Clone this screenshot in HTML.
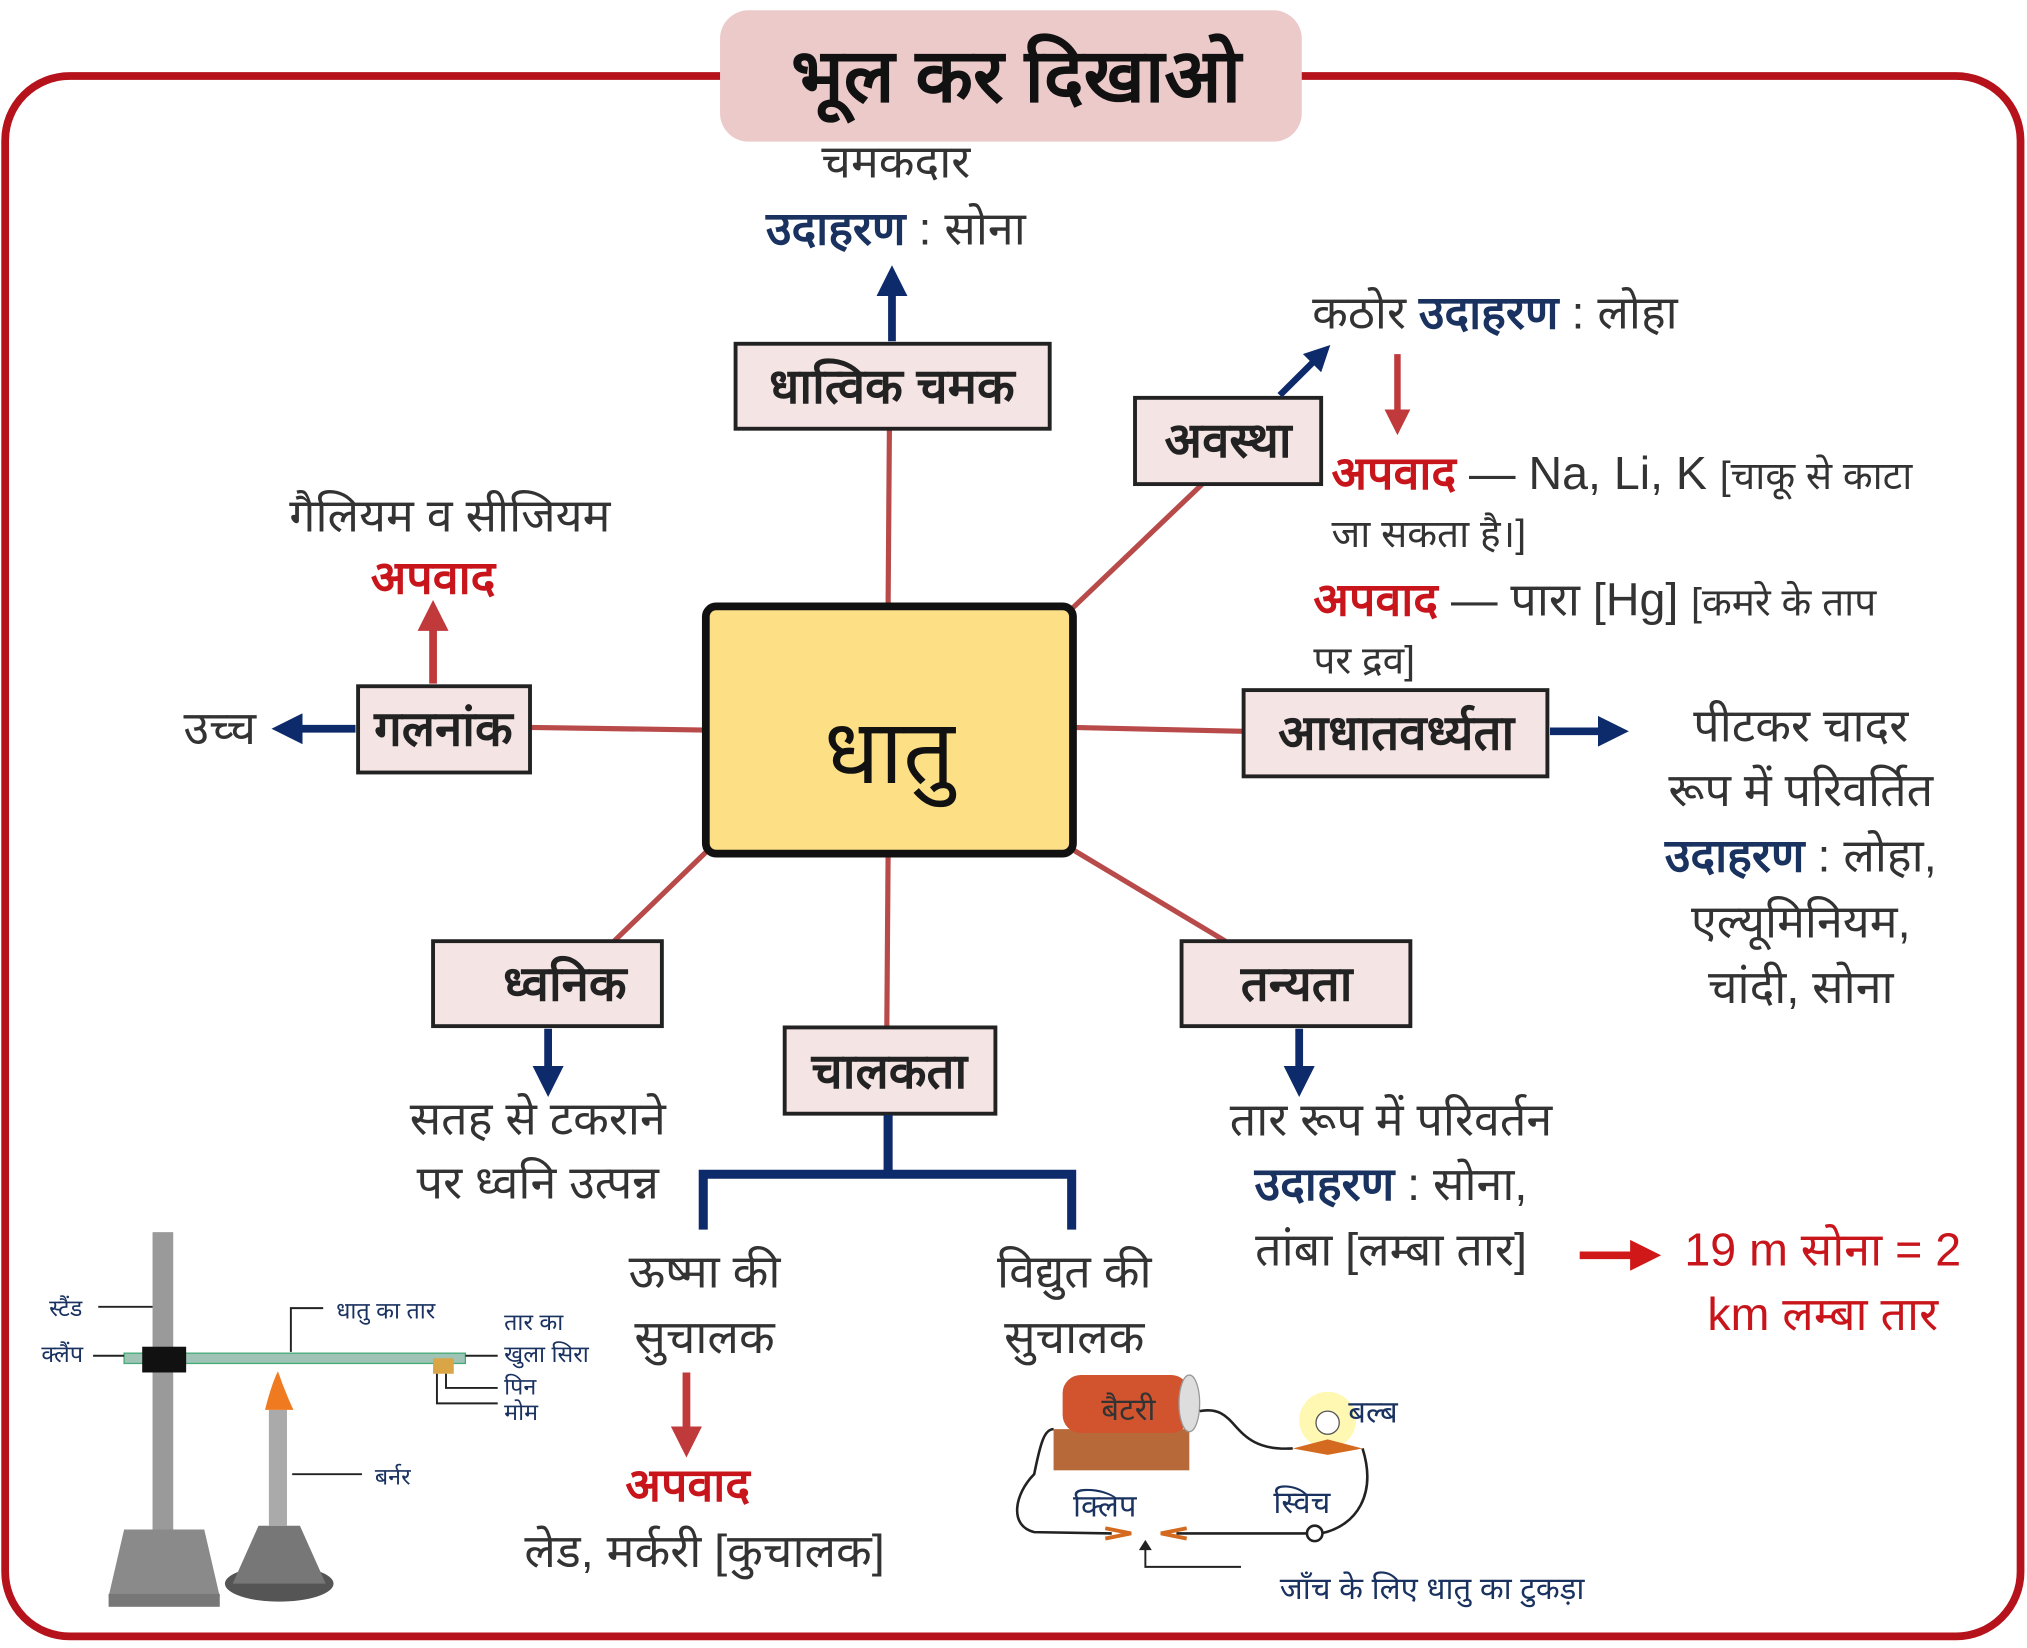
<!DOCTYPE html>
<html><head><meta charset="utf-8">
<style>
html,body{margin:0;padding:0;background:#fff;}
svg{display:block;}
text{font-family:"Liberation Sans","DejaVu Sans","Noto Sans CJK SC",sans-serif;}
</style></head>
<body>
<svg width="2027" height="1648" viewBox="0 0 1568 1280" preserveAspectRatio="none" xmlns="http://www.w3.org/2000/svg">
<defs>
<marker id="ab" markerWidth="4" markerHeight="4" refX="2" refY="2" orient="auto" markerUnits="strokeWidth"><path d="M0,0 L4,2 L0,4 z" fill="#0d2a6b"/></marker>
<marker id="ar" markerWidth="4" markerHeight="4" refX="2" refY="2" orient="auto" markerUnits="strokeWidth"><path d="M0,0 L4,2 L0,4 z" fill="#c0393b"/></marker>
<marker id="arr" markerWidth="4" markerHeight="4" refX="2" refY="2" orient="auto" markerUnits="strokeWidth"><path d="M0,0 L4,2 L0,4 z" fill="#d01818"/></marker>
</defs>
<rect x="4" y="59" width="1559" height="1212" rx="50" fill="none" stroke="#b5121b" stroke-width="6"/>
<rect x="557" y="8" width="450" height="102" rx="22" fill="#eccaca"/>
<text x="786" y="79" font-size="58" font-weight="bold" text-anchor="middle" fill="#111">भूल कर दिखाओ</text>

<g stroke="#b84a4a" stroke-width="4">
<line x1="687" y1="470" x2="688" y2="333"/>
<line x1="830" y1="472" x2="930" y2="376"/>
<line x1="545" y1="567" x2="410" y2="565"/>
<line x1="830" y1="565" x2="962" y2="568"/>
<line x1="548" y1="660" x2="475" y2="731"/>
<line x1="830" y1="660" x2="948" y2="731"/>
<line x1="687" y1="663" x2="686" y2="798"/>
</g>

<rect x="546" y="471" width="284" height="192" rx="8" fill="#fddf86" stroke="#111" stroke-width="6"/>
<text x="688" y="608" font-size="70" text-anchor="middle" fill="#111">धातु</text>

<g fill="#f5e4e4" stroke="#222" stroke-width="3">
<rect x="569" y="267" width="243" height="66"/>
<rect x="878" y="309" width="144" height="67"/>
<rect x="277" y="533" width="133" height="67"/>
<rect x="962" y="536" width="235" height="67"/>
<rect x="335" y="731" width="177" height="66"/>
<rect x="914" y="731" width="177" height="66"/>
<rect x="607" y="798" width="163" height="67"/>
</g>
<g font-size="38" font-weight="bold" fill="#222" text-anchor="middle">
<text x="690" y="313">धात्विक चमक</text>
<text x="950" y="355">अवस्था</text>
<text x="343" y="579">गलनांक</text>
<text x="1080" y="582">आधातवर्ध्यता</text>
<text x="437" y="777">ध्वनिक</text>
<text x="1003" y="777">तन्यता</text>
<text x="688" y="845">चालकता</text>
</g>

<g stroke-width="6" fill="none">
<line x1="690" y1="265" x2="690" y2="218" stroke="#0d2a6b" marker-end="url(#ab)"/>
<line x1="990" y1="307" x2="1022" y2="275" stroke="#0d2a6b" stroke-width="5" marker-end="url(#ab)"/>
<line x1="275" y1="566" x2="222" y2="566" stroke="#0d2a6b" marker-end="url(#ab)"/>
<line x1="1199" y1="568" x2="1248" y2="568" stroke="#0d2a6b" marker-end="url(#ab)"/>
<line x1="424" y1="799" x2="424" y2="840" stroke="#0d2a6b" marker-end="url(#ab)"/>
<line x1="1005" y1="799" x2="1005" y2="840" stroke="#0d2a6b" marker-end="url(#ab)"/>
<line x1="335" y1="531" x2="335" y2="478" stroke="#c0393b" marker-end="url(#ar)"/>
<line x1="1081" y1="275" x2="1081" y2="328" stroke="#c0393b" stroke-width="5" marker-end="url(#ar)"/>
<line x1="531" y1="1066" x2="531" y2="1120" stroke="#c0393b" marker-end="url(#ar)"/>
<line x1="1222" y1="975" x2="1273" y2="975" stroke="#d01818" marker-end="url(#arr)"/>
<path d="M687,866 V912 M544,955 V912 H829 V955" stroke="#0d2a6b" stroke-width="7"/>
</g>

<g font-size="36" fill="#333">
<text x="693" y="138" text-anchor="middle">चमकदार</text>
<text x="693" y="190" text-anchor="middle"><tspan fill="#1a3260" font-weight="bold">उदाहरण</tspan> : सोना</text>
<text x="1015" y="255">कठोर <tspan fill="#1a3260" font-weight="bold">उदाहरण</tspan> : लोहा</text>
<text x="1030" y="380"><tspan fill="#c8151b" font-weight="bold">अपवाद</tspan> — Na, Li, K <tspan font-size="30">[चाकू से काटा</tspan></text>
<text x="1030" y="425" font-size="30">जा सकता है।]</text>
<text x="1016" y="478"><tspan fill="#c8151b" font-weight="bold">अपवाद</tspan> — पारा [Hg] <tspan font-size="30">[कमरे के ताप</tspan></text>
<text x="1016" y="523" font-size="30">पर द्रव]</text>
<text x="348" y="413" text-anchor="middle">गैलियम व सीजियम</text>
<text x="335" y="461" text-anchor="middle" fill="#c8151b" font-weight="bold">अपवाद</text>
<text x="170" y="578" text-anchor="middle">उच्च</text>
<text x="1393" y="576" text-anchor="middle">पीटकर चादर</text>
<text x="1393" y="626" text-anchor="middle">रूप में परिवर्तित</text>
<text x="1393" y="677" text-anchor="middle"><tspan fill="#1a3260" font-weight="bold">उदाहरण</tspan> : लोहा,</text>
<text x="1393" y="728" text-anchor="middle">एल्यूमिनियम,</text>
<text x="1393" y="779" text-anchor="middle">चांदी, सोना</text>
<text x="416" y="881" text-anchor="middle">सतह से टकराने</text>
<text x="416" y="931" text-anchor="middle">पर ध्वनि उत्पन्न</text>
<text x="1076" y="882" text-anchor="middle">तार रूप में परिवर्तन</text>
<text x="1076" y="932" text-anchor="middle"><tspan fill="#1a3260" font-weight="bold">उदाहरण</tspan> : सोना,</text>
<text x="1076" y="983" text-anchor="middle">तांबा [लम्बा तार]</text>
<text x="1410" y="983" text-anchor="middle" fill="#c8151b">19 m सोना = 2</text>
<text x="1410" y="1033" text-anchor="middle" fill="#c8151b">km लम्बा तार</text>
<text x="545" y="1000" text-anchor="middle">ऊष्मा की</text>
<text x="545" y="1051" text-anchor="middle">सुचालक</text>
<text x="831" y="1000" text-anchor="middle">विद्युत की</text>
<text x="831" y="1051" text-anchor="middle">सुचालक</text>
<text x="532" y="1166" text-anchor="middle" fill="#c8151b" font-weight="bold">अपवाद</text>
<text x="545" y="1217" text-anchor="middle">लेड, मर्करी [कुचालक]</text>
</g>

<g>
<rect x="118" y="957" width="16" height="255" fill="#9a9a9a"/>
<path d="M96,1188 H158 L170,1240 H84 Z" fill="#8a8a8a"/>
<rect x="84" y="1238" width="86" height="10" fill="#777"/>
<rect x="96" y="1051" width="264" height="8" fill="#9fc4b6" stroke="#4a7"/>
<rect x="110" y="1046" width="34" height="20" fill="#111"/>
<rect x="208" y="1095" width="14" height="90" fill="#aaa"/>
<path d="M205,1095 q5,-20 10,-30 q5,15 12,30 z" fill="#f07a20"/>
<ellipse cx="216" cy="1230" rx="42" ry="14" fill="#555"/>
<path d="M180,1230 L200,1185 H232 L252,1230 Z" fill="#777"/>
<rect x="335" y="1055" width="16" height="12" fill="#d9a545"/>
<g stroke="#222" stroke-width="1.5" fill="none">
<line x1="76" y1="1015" x2="118" y2="1015"/>
<line x1="72" y1="1053" x2="96" y2="1053"/>
<path d="M225,1050 V1016 H250"/>
<path d="M360,1053 H385"/>
<path d="M345,1067 V1078 H385"/>
<path d="M338,1067 V1090 H385"/>
<line x1="226" y1="1145" x2="280" y2="1145"/>
</g>
<g font-size="18" fill="#1a3260">
<text x="38" y="1022">स्टैंड</text>
<text x="32" y="1058">क्लैंप</text>
<text x="260" y="1024">धातु का तार</text>
<text x="390" y="1033">तार का</text>
<text x="390" y="1058">खुला सिरा</text>
<text x="390" y="1083">पिन</text>
<text x="390" y="1103">मोम</text>
<text x="290" y="1153">बर्नर</text>
</g>
</g>

<g>
<rect x="815" y="1110" width="105" height="32" fill="#b8693a"/>
<rect x="822" y="1068" width="98" height="45" rx="14" fill="#d1542f"/>
<ellipse cx="920" cy="1090" rx="8" ry="22" fill="#ddd" stroke="#999"/>
<circle cx="1027" cy="1103" r="22" fill="#fff6a0" opacity="0.8"/>
<circle cx="1027" cy="1105" r="9" fill="#fff" stroke="#555"/>
<path d="M1000,1125 L1027,1118 L1054,1125 L1027,1130 Z" fill="#d46a20"/>
<path d="M928,1096 C960,1090 950,1128 1000,1125 M1054,1125 C1065,1160 1050,1185 1022,1191 M1012,1191 L910,1191 M860,1191 L800,1190 C780,1185 785,1160 800,1145 C805,1120 808,1110 815,1110" stroke="#222" stroke-width="2" fill="none"/>
<circle cx="1017" cy="1191" r="6" fill="#fff" stroke="#222" stroke-width="2"/>
<path d="M855,1187 l20,4 l-20,4 M918,1187 l-20,4 l20,4" stroke="#d46a20" stroke-width="3" fill="none"/>
<path d="M960,1217 H886 V1200" stroke="#222" stroke-width="1.5" fill="none"/>
<path d="M881,1204 L886,1196 L891,1204 Z" fill="#222"/>
<g font-size="24" fill="#1a3260">
<text x="852" y="1103" fill="#333">बैटरी</text>
<text x="1043" y="1105">बल्ब</text>
<text x="830" y="1178">क्लिप</text>
<text x="985" y="1175">स्विच</text>
<text x="990" y="1242">जाँच के लिए धातु का टुकड़ा</text>
</g>
</g>
</svg>
</body></html>
